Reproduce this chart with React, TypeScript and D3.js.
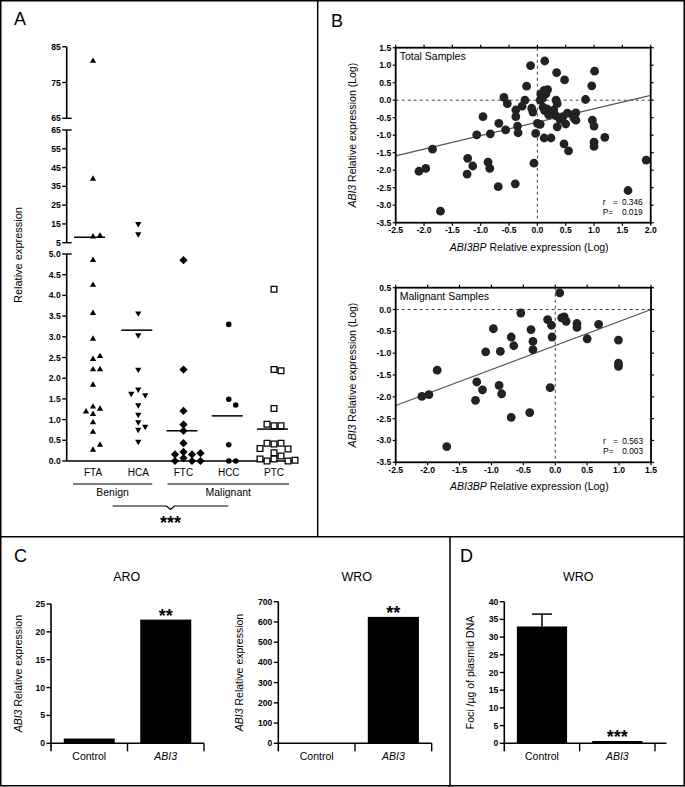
import React from "react";
import * as d3 from "d3";

const FONT = "'Liberation Sans', Arial, Helvetica, sans-serif";

// ---------- Panel A data ----------
const groupsA = ["FTA", "HCA", "FTC", "HCC", "PTC"];
const ftaValues = [81, 39, 8.2, 8.7, 4.85, 4.25, 3.57, 2.95, 2.46, 2.53, 2.21, 2.21, 1.84, 1.31, 1.26, 1.13, 1.19, 0.93, 0.7, 0.27, 0.39];
const hcaValues = [15, 9.6, 3.57, 3.04, 2.21, 1.73, 1.59, 1.63, 1.35, 1.12, 0.94, 0.83, 0.76, 0.47];
const ftcValues = [4.85, 2.21, 1.21, 0.88, 0.73, 0.43, 0.22, 0.16, 0.16, 0.19, 0.07, 0.0, 0.0, 0.0];
const hccValues = [3.3, 1.49, 1.35, 0.39, 0.0, 0.0];
const ptcValues = [4.15, 2.21, 2.18, 1.27, 0.85, 0.85, 0.89, 0.41, 0.43, 0.43, 0.29, 0.2, 0.3, 0.12, 0.05, 0.0, 0.0, 0.05, 0.02];
const meansA = [7.9, 3.16, 0.73, 1.09, 0.77];
const ticksLow = [0, 0.5, 1, 1.5, 2, 2.5, 3, 3.5, 4, 4.5, 5];
const ticksMid = [5, 15, 25, 35, 45, 55, 65];
const ticksTop = [65, 75, 85];
const benignGroups = ["FTA", "HCA"];
const malignantGroups = ["FTC", "HCC", "PTC"];

// ---------- Panel B data ----------
const totalX = [-0.12, 0.13, 0.34, 0.48, 1.01, 0.96, -0.19, 0.12, 0.18, 0.06, 0.15, 0.09, 0.05, 0.85, -0.59, -0.53, -0.22, 0.33,
  -0.38, -0.27, -0.38, -0.1, -0.08, 0.1, 0.17, 0.23, 0.29, 0.35, 0.33, 0.4, 0.45, 0.53, 0.62, 0.68, 0.65, 0.68, -0.96, 0.97, 1.0,
  0.35, 0.5, 0.0, 0.05, -0.68, -0.56, -0.35, -0.34, -0.03, 0.12, 0.24, 1.19, -0.83, -1.07, 0.47, 0.55, 1.0, 1.0, 0.13, 0.2,
  -1.85, -1.23, -1.14, -0.87, -0.84, -1.24, -2.09, -1.97, -0.69, -0.39, -0.06, -1.71, 1.6, 1.92];
const totalY = [0.99, 1.12, 0.79, 0.58, 0.83, 0.41, 0.4, 0.28, 0.3, 0.18, 0.18, 0.05, 0.0, 0.02, 0.08, -0.1, 0.0, 0.0,
  -0.28, -0.17, -0.47, -0.23, -0.34, -0.2, -0.25, -0.35, -0.28, -0.1, -0.45, -0.55, -0.47, -0.37, -0.42, -0.36, -0.52, -0.57, -0.47, -0.57, -0.74,
  -0.76, -0.68, -0.66, -0.69, -0.66, -0.85, -0.74, -0.93, -0.95, -1.08, -1.08, -1.06, -0.96, -0.99, -1.25, -1.45, -1.2, -1.32, -0.3, -0.42,
  -1.4, -1.66, -1.88, -1.77, -1.95, -2.11, -2.03, -1.95, -2.47, -2.39, -1.8, -3.17, -2.58, -1.71];
const malX = [0.07, -0.54, -0.12, 0.1, 0.14, 0.17, -0.06, 0.34, 0.34, 0.68, -0.97, -0.38, -0.69, -0.05, 0.5, 0.99, -0.35, -0.65, -0.35,
  -1.09, -0.86, 0.99, 0.99, -1.85, -1.23, -1.14, -0.88, -0.84, -1.25, -2.09, -1.98, -0.08, -0.69, -0.4, -1.7];
const malY = [0.38, -0.08, -0.23, -0.19, -0.17, -0.27, -0.36, -0.32, -0.41, -0.34, -0.44, -0.46, -0.63, -0.63, -0.67, -0.7, -0.73, -0.83, -0.92,
  -0.97, -0.96, -1.23, -1.3, -1.39, -1.66, -1.84, -1.74, -1.93, -2.08, -1.99, -1.95, -1.79, -2.47, -2.36, -3.14];
const totalFit = { slope: 0.384, intercept: -0.63, r: "0.346", p: "0.019" };
const malFit = { slope: 0.55, intercept: -0.825, r: "0.563", p: "0.003" };
const totalXTicks = [-2.5, -2, -1.5, -1, -0.5, 0, 0.5, 1, 1.5, 2];
const totalYTicks = [1.5, 1, 0.5, 0, -0.5, -1, -1.5, -2, -2.5, -3, -3.5];
const malXTicks = [-2.5, -2, -1.5, -1, -0.5, 0, 0.5, 1, 1.5];
const malYTicks = [0.5, 0, -0.5, -1, -1.5, -2, -2.5, -3, -3.5];

// ---------- Panel C / D data ----------
const barCats = ["Control", "ABI3"];
const aroValues = [0.85, 22.2];
const aroTicks = [0, 5, 10, 15, 20, 25];
const wroValues = [1, 625];
const wroTicks = [0, 100, 200, 300, 400, 500, 600, 700];
const fociValues = [33, 0.65];
const fociErrors = [3.5, 0];
const fociTicks = [0, 5, 10, 15, 20, 25, 30, 35, 40];

const TICK_FS = 8.6;

// ---------- helpers ----------
function swarm(values: number[], cx: number, y: (v: number) => number, step: number, r: number) {
  const placed: { x: number; y: number }[] = [];
  return values.map((v) => {
    const py = y(v);
    const offs = [0, 1, -1, 2, -2, 3, -3];
    for (const o of offs) {
      const px = cx + o * step;
      if (placed.every((p) => Math.abs(p.x - px) >= r || Math.abs(p.y - py) >= r)) {
        placed.push({ x: px, y: py });
        return { x: px, y: py };
      }
    }
    placed.push({ x: cx, y: py });
    return { x: cx, y: py };
  });
}

function PanelA() {
  const yLow = d3.scaleLinear().domain([0, 5]).range([461, 254]);
  const yMid = d3.scaleLinear().domain([5, 65]).range([242.7, 130]);
  const yTop = d3.scaleLinear().domain([65, 85]).range([118.3, 46.7]);
  const y = (v: number) => (v <= 5 ? yLow(v) : v <= 65 ? yMid(v) : yTop(v));
  const x = d3.scalePoint<string>().domain(groupsA).range([93, 274]);
  const ax = 66.7;
  const sets = [ftaValues, hcaValues, ftcValues, hccValues, ptcValues];
  const symbols = [
    d3.symbol().type(d3.symbolTriangle).size(17)(),
    d3.symbol().type(d3.symbolTriangle).size(17)(),
    d3.symbol().type(d3.symbolSquare).size(34)(),
    d3.symbol().type(d3.symbolCircle).size(24)(),
    d3.symbol().type(d3.symbolSquare).size(33)(),
  ];
  const rot = ["", " rotate(180)", " rotate(45)", "", ""];
  const segs = [
    { s: yLow, ticks: ticksLow, fmt: (v: number) => v.toFixed(1) },
    { s: yMid, ticks: ticksMid, fmt: (v: number) => String(v) },
    { s: yTop, ticks: ticksTop, fmt: (v: number) => String(v) },
  ];
  const bx0 = (x(benignGroups[0]) as number) - 20;
  const bx1 = (x(benignGroups[benignGroups.length - 1]) as number) + 14;
  const mx0 = (x(malignantGroups[0]) as number) - 16;
  const mx1 = (x(malignantGroups[malignantGroups.length - 1]) as number) + 15;
  const bc = (bx0 + bx1) / 2;
  const mc = (mx0 + mx1) / 2;
  const mid = (bc + mc) / 2;
  return (
    <g fontFamily={FONT}>
      <text x={14} y={25} fontSize={18}>A</text>
      {segs.map((sg, i) => {
        const [r0, r1] = sg.s.range();
        return (
          <g key={i}>
            <line x1={ax} x2={ax} y1={r0} y2={r1} stroke="#000" strokeWidth={1.6} />
            {sg.ticks.map((t, j) => {
              const isEnd = (i === 0 && j === sg.ticks.length - 1) || (i === 1 && (j === 0 || j === sg.ticks.length - 1)) || (i === 2 && j === 0);
              return (
                <g key={t}>
                  <line x1={ax - 4.5} x2={isEnd ? ax + 5 : ax} y1={sg.s(t)} y2={sg.s(t)} stroke="#000" strokeWidth={1.4} />
                  <text x={ax - 6} y={sg.s(t)} dy="0.35em" textAnchor="end" fontSize={TICK_FS} fontWeight="bold">{sg.fmt(t)}</text>
                </g>
              );
            })}
          </g>
        );
      })}
      <line x1={ax} x2={297} y1={461} y2={461} stroke="#000" strokeWidth={1.6} />
      <text transform="translate(22,255) rotate(-90)" textAnchor="middle" fontSize={11}>Relative expression</text>
      {sets.map((vals, gi) => {
        const cx = x(groupsA[gi]) as number;
        const pts = swarm(vals, cx, y, gi === 2 ? 8.5 : 7, 6);
        return (
          <g key={gi}>
            {pts.map((p, k) => (
              <path key={k} d={symbols[gi] as string}
                transform={`translate(${p.x},${p.y})${rot[gi]}`}
                fill={gi === 4 ? "#fff" : "#000"} stroke="#000" strokeWidth={gi === 4 ? 1.3 : 0} />
            ))}
            <line x1={cx - (gi === 0 ? 19 : 17)} x2={cx + (gi === 0 ? 12 : 14)} y1={y(meansA[gi])} y2={y(meansA[gi])} stroke="#000" strokeWidth={1.5} />
            <text x={cx} y={476} textAnchor="middle" fontSize={10}>{groupsA[gi]}</text>
          </g>
        );
      })}
      <line x1={bx0} x2={bx1} y1={484} y2={484} stroke="#000" strokeWidth={1.2} />
      <line x1={mx0} x2={mx1} y1={484} y2={484} stroke="#000" strokeWidth={1.2} />
      <text x={bc} y={496} textAnchor="middle" fontSize={10.5}>Benign</text>
      <text x={mc} y={496} textAnchor="middle" fontSize={10.5}>Malignant</text>
      <path d={`M${bc},506 H${mid - 4} L${mid},509.5 L${mid + 4},506 H${mc}`} fill="none" stroke="#000" strokeWidth={1.2} />
      <text x={mid} y={529} textAnchor="middle" fontSize={18} fontWeight="bold">***</text>
    </g>
  );
}

type Fit = { slope: number; intercept: number; r: string; p: string };
function Scatter(props: {
  left: number; right: number; top: number; bottom: number;
  xd: [number, number]; yd: [number, number]; xt: number[]; yt: number[];
  xs: number[]; ys: number[]; fit: Fit; title: string;
}) {
  const { left, right, top, bottom, xd, yd, xt, yt, xs, ys, fit, title } = props;
  const x = d3.scaleLinear().domain(xd).range([left, right]);
  const y = d3.scaleLinear().domain(yd).range([bottom, top]);
  const line = d3.line<number>().x((v) => x(v)).y((v) => y(fit.intercept + fit.slope * v));
  const cy = (top + bottom) / 2;
  return (
    <g fontFamily={FONT}>
      <line x1={x(0)} x2={x(0)} y1={top} y2={bottom} stroke="#444" strokeWidth={1} strokeDasharray="3,3" />
      <line x1={left} x2={right} y1={y(0)} y2={y(0)} stroke="#444" strokeWidth={1} strokeDasharray="3,3" />
      <path d={line(xd) as string} stroke="#555" strokeWidth={1.2} fill="none" />
      {xs.map((v, i) => (
        <circle key={i} cx={x(v)} cy={y(ys[i])} r={4.4} fill="#222" />
      ))}
      <rect x={left} y={top} width={right - left} height={bottom - top} fill="none" stroke="#000" strokeWidth={1.8} />
      {xt.map((t) => (
        <g key={t}>
          <line x1={x(t)} x2={x(t)} y1={bottom} y2={bottom + 3} stroke="#000" strokeWidth={1.2} />
          <line x1={x(t)} x2={x(t)} y1={top} y2={top - 3} stroke="#000" strokeWidth={1.2} />
          <text x={x(t)} y={bottom + 10.5} textAnchor="middle" fontSize={TICK_FS} fontWeight="bold">{t.toFixed(1)}</text>
        </g>
      ))}
      {yt.map((t) => (
        <g key={t}>
          <line x1={left - 3} x2={left} y1={y(t)} y2={y(t)} stroke="#000" strokeWidth={1.2} />
          <line x1={right} x2={right + 3} y1={y(t)} y2={y(t)} stroke="#000" strokeWidth={1.2} />
          <text x={left - 4.5} y={y(t)} dy="0.35em" textAnchor="end" fontSize={TICK_FS} fontWeight="bold">{t.toFixed(1)}</text>
        </g>
      ))}
      <text x={left + 4} y={top + 12} fontSize={10.5}>{title}</text>
      <text x={right - 48} y={bottom - 18} fontSize={8.5}>r</text>
      <text x={right - 38} y={bottom - 18} fontSize={8.5}>=</text>
      <text x={right - 8} y={bottom - 18} textAnchor="end" fontSize={8.3}>{fit.r}</text>
      <text x={right - 48} y={bottom - 8} fontSize={8.5}>P=</text>
      <text x={right - 8} y={bottom - 8} textAnchor="end" fontSize={8.3}>{fit.p}</text>
      <text transform={`translate(356,${cy}) rotate(-90)`} textAnchor="middle" fontSize={10.5}>
        <tspan fontStyle="italic">ABI3</tspan> Relative expression (Log)
      </text>
      <text x={(left + right) / 2 + 6} y={bottom + 28} textAnchor="middle" fontSize={10.5}>
        <tspan fontStyle="italic">ABI3BP</tspan> Relative expression (Log)
      </text>
    </g>
  );
}

function Bars(props: {
  x0: number; x1: number; axisEnd: number; y0: number; y1: number; max: number; ticks: number[];
  values: number[]; errors?: number[]; title: string; titleX: number; stars: string; starIdx: number;
  ylabel: React.ReactNode; ylabelX: number;
}) {
  const { x0, x1, axisEnd, y0, y1, max, ticks, values, errors, title, titleX, stars, starIdx, ylabel, ylabelX } = props;
  const x = d3.scaleBand<string>().domain(barCats).range([x0, x1]).paddingInner(1 / 3).paddingOuter(1 / 6);
  const y = d3.scaleLinear().domain([0, max]).range([y0, y1]);
  const step = x.step();
  const bounds = [x0 + step * 0, x0 + step * 1, x0 + step * 2];
  return (
    <g fontFamily={FONT}>
      <text x={titleX} y={581} textAnchor="middle" fontSize={12.5}>{title}</text>
      {values.map((v, i) => {
        const bx = x(barCats[i]) as number;
        const e = errors ? errors[i] : 0;
        return (
          <g key={i}>
            <rect x={bx} y={y(v)} width={x.bandwidth()} height={y0 - y(v)} fill="#000" />
            {e > 0 && (
              <g>
                <line x1={bx + x.bandwidth() / 2} x2={bx + x.bandwidth() / 2} y1={y(v)} y2={y(v + e)} stroke="#000" strokeWidth={1.5} />
                <line x1={bx + x.bandwidth() / 2 - 10} x2={bx + x.bandwidth() / 2 + 10} y1={y(v + e)} y2={y(v + e)} stroke="#000" strokeWidth={1.5} />
              </g>
            )}
          </g>
        );
      })}
      <text x={(x(barCats[starIdx]) as number) + x.bandwidth() / 2} y={y(values[starIdx]) + 2.5}
        textAnchor="middle" fontSize={18} fontWeight="bold">{stars}</text>
      <line x1={x0} x2={x0} y1={y1} y2={y0 + 8} stroke="#000" strokeWidth={1.6} />
      {ticks.map((t) => (
        <g key={t}>
          <line x1={x0 - 4.5} x2={x0} y1={y(t)} y2={y(t)} stroke="#000" strokeWidth={1.4} />
          <text x={x0 - 6} y={y(t)} dy="0.35em" textAnchor="end" fontSize={TICK_FS} fontWeight="bold">{t}</text>
        </g>
      ))}
      <line x1={x0} x2={axisEnd} y1={y0} y2={y0} stroke="#000" strokeWidth={1.6} />
      {bounds.slice(1).map((b, i) => (
        <line key={i} x1={b} x2={b} y1={y0} y2={y0 + 8} stroke="#000" strokeWidth={1.4} />
      ))}
      {barCats.map((c) => (
        <text key={c} x={(x(c) as number) + x.bandwidth() / 2} y={760} textAnchor="middle" fontSize={10.5}
          fontStyle={c === "ABI3" ? "italic" : "normal"}>{c}</text>
      ))}
      <text transform={`translate(${ylabelX},${(y0 + y1) / 2}) rotate(-90)`} textAnchor="middle" fontSize={10.5}>{ylabel}</text>
    </g>
  );
}

export default function App() {
  const abi3Label = (<><tspan fontStyle="italic">ABI3</tspan> Relative expression</>);
  return (
    <div style={{ position: "absolute", left: 0, top: 0 }}>
      <svg width={685} height={787} viewBox="0 0 685 787" style={{ display: "block", background: "#fff" }}>
        <rect x={0} y={0} width={685} height={787} fill="#fff" />
        <PanelA />
        <text x={331} y={27} fontSize={18} fontFamily={FONT}>B</text>
        <Scatter left={395.7} right={650.7} top={47.7} bottom={222.7} xd={[-2.5, 2.0]} yd={[-3.5, 1.5]}
          xt={totalXTicks} yt={totalYTicks} xs={totalX} ys={totalY} fit={totalFit} title="Total Samples" />
        <Scatter left={395.7} right={651} top={287.7} bottom={462.3} xd={[-2.5, 1.5]} yd={[-3.5, 0.5]}
          xt={malXTicks} yt={malYTicks} xs={malX} ys={malY} fit={malFit} title="Malignant Samples" />
        <text x={14} y={562} fontSize={18} fontFamily={FONT}>C</text>
        <Bars x0={51} x1={204} axisEnd={204} y0={743.3} y1={604} max={25} ticks={aroTicks} values={aroValues}
          title="ARO" titleX={126.7} stars="**" starIdx={1} ylabel={abi3Label} ylabelX={22} />
        <Bars x0={278.3} x1={431.7} axisEnd={431.7} y0={743.3} y1={601.7} max={700} ticks={wroTicks} values={wroValues}
          title="WRO" titleX={356.7} stars="**" starIdx={1} ylabel={abi3Label} ylabelX={243} />
        <text x={460} y={562} fontSize={18} fontFamily={FONT}>D</text>
        <Bars x0={504.3} x1={655} axisEnd={666.5} y0={743.3} y1={601.7} max={40} ticks={fociTicks} values={fociValues}
          errors={fociErrors} title="WRO" titleX={578.3} stars="***" starIdx={1}
          ylabel={"Foci /\u00b5g of plasmid DNA"} ylabelX={474} />
        <rect x={0.75} y={0.75} width={683.5} height={785} fill="none" stroke="#000" strokeWidth={1.5} />
        <line x1={317.7} x2={317.7} y1={0} y2={536.7} stroke="#000" strokeWidth={1.5} />
        <line x1={0} x2={685} y1={536.7} y2={536.7} stroke="#000" strokeWidth={1.5} />
        <line x1={450} x2={450} y1={536.7} y2={787} stroke="#000" strokeWidth={1.5} />
      </svg>
    </div>
  );
}
